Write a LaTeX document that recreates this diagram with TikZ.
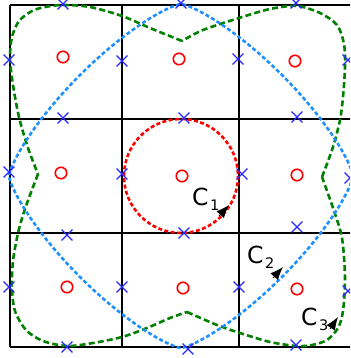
\documentclass[tikz,border=0pt]{standalone}
\usepackage{fontspec}
\setmainfont{DejaVu Sans}
\usetikzlibrary{arrows.meta,shapes.misc}
\definecolor{bcurve}{RGB}{30,144,255}
\definecolor{gcurve}{RGB}{0,128,0}
\definecolor{xblue}{RGB}{40,40,255}
\begin{document}
\begin{tikzpicture}[x=1pt,y=-1pt,
  gridline/.style={black,line width=2.4pt},
  redc/.style={red,line width=2.6pt,dash pattern=on 4pt off 2.4pt},
  bluec/.style={bcurve,line width=2.6pt,dash pattern=on 4pt off 2.4pt},
  greenc/.style={gcurve,line width=2.6pt,dash pattern=on 6pt off 3.2pt},
  xm/.style={draw=xblue,cross out,minimum size=9.5pt,inner sep=0pt,line width=1.3pt},
  om/.style={draw=red,circle,minimum size=11.5pt,inner sep=0pt,line width=1.6pt},
  lab/.style={inner sep=0pt,anchor=base west,font=\fontsize{23.5}{23.5}\selectfont},
  arr/.style={black,line width=0.8pt,-{Latex[length=13pt,width=10pt]}}]
\useasboundingbox (0,0) rectangle (350,358);
\clip (0,0) rectangle (350,358);
% grid
\draw[gridline] (10,5) -- (10,347);
\draw[gridline] (122,5) -- (122,347);
\draw[gridline] (239,5) -- (239,347);
\draw[gridline] (10,5) -- (356,5);
\draw[gridline] (10,119) -- (356,119);
\draw[gridline] (10,233) -- (356,233);
\draw[gridline] (10,347) -- (356,347);
% green curve
\draw[greenc] plot[smooth] coordinates {(182,41) (150,28) (122,16) (90,7) (63,5) (45,7) (32,11) (19,21) (12,37) (10,58) (13,85) (19,117) (28,148) (38,174)};
\draw[greenc] plot[smooth] coordinates {(38,174) (30,195) (24,212) (18,233) (13,261) (12,288) (15,311) (26,330) (43,341) (67,346) (93,343) (122,337) (147,328) (170,318) (187,312)};
\draw[greenc] plot[smooth] coordinates {(187,312) (217,325) (240,333) (270,342) (297,346) (312,345) (327,340) (338,328) (343,311) (345,278) (342,238) (333,208) (322,177)};
\draw[greenc] plot[smooth] coordinates {(322,177) (333,147) (340,120) (343,97) (345,67) (344,44) (337,25) (320,13) (297,6) (270,9) (239,18) (203,30) (182,41)};
% blue curve
\draw[bluec] plot[domain=0:360,samples=241,variable=\t]
  ({181+172*cos(\t)*(abs(cos(\t))+0.0005)^0.5385},{176+172*sin(\t)*(abs(sin(\t))+0.0005)^0.5385}) -- cycle;
% red circle
\draw[redc] (181,176) circle[radius=57];
% crosses
\node[xm] (x11) at (63,4) {};
\node[xm] (x12) at (181,3) {};
\node[xm] (x13) at (296,3) {};
\node[xm] (x21) at (9,60) {};
\node[xm] (x22) at (122,61) {};
\node[xm] (x23) at (238,59) {};
\node[xm] (x24) at (348,60) {};
\node[xm] (x31) at (63,118) {};
\node[xm] (x32) at (184,118) {};
\node[xm] (x33) at (297,117) {};
\node[xm] (x41) at (9,172) {};
\node[xm] (x42) at (122,174) {};
\node[xm] (x43) at (242,174) {};
\node[xm] (x44) at (350,178) {};
\node[xm] (x51) at (67,235) {};
\node[xm] (x52) at (184,233) {};
\node[xm] (x53) at (297,227) {};
\node[xm] (x61) at (9,287) {};
\node[xm] (x62) at (122,287) {};
\node[xm] (x63) at (239,287) {};
\node[xm] (x64) at (348,291) {};
\node[xm] (x71) at (67,347) {};
\node[xm] (x72) at (188,349) {};
\node[xm] (x73) at (296,345) {};
% circles
\node[om] (o11) at (63,57) {};
\node[om] (o12) at (179,59) {};
\node[om] (o13) at (295,61) {};
\node[om] (o21) at (61,173) {};
\node[om] (o22) at (182,176) {};
\node[om] (o23) at (297,175) {};
\node[om] (o31) at (67,287) {};
\node[om] (o32) at (183,288) {};
\node[om] (o33) at (297,289) {};
% labels
\node[lab] (c1) at (192,205) {C\kern1.5pt\raisebox{-5pt}{\fontsize{14.5}{14.5}\selectfont 1}};
\node[lab] (c2) at (247,263) {C\kern1.5pt\raisebox{-5pt}{\fontsize{14.5}{14.5}\selectfont 2}};
\node[lab] (c3) at (301,325) {C\kern1.5pt\raisebox{-5pt}{\fontsize{14.5}{14.5}\selectfont 3}};
% arrows
\coordinate (a1s) at (219,216);
\coordinate (a1e) at (229,205);
\coordinate (a2s) at (273,278);
\coordinate (a2e) at (283,267);
\coordinate (a3s) at (330,329);
\coordinate (a3e) at (338,317);
\draw[arr] (a1s) -- (a1e);
\draw[arr] (a2s) -- (a2e);
\draw[arr] (a3s) -- (a3e);
\end{tikzpicture}
\end{document}
